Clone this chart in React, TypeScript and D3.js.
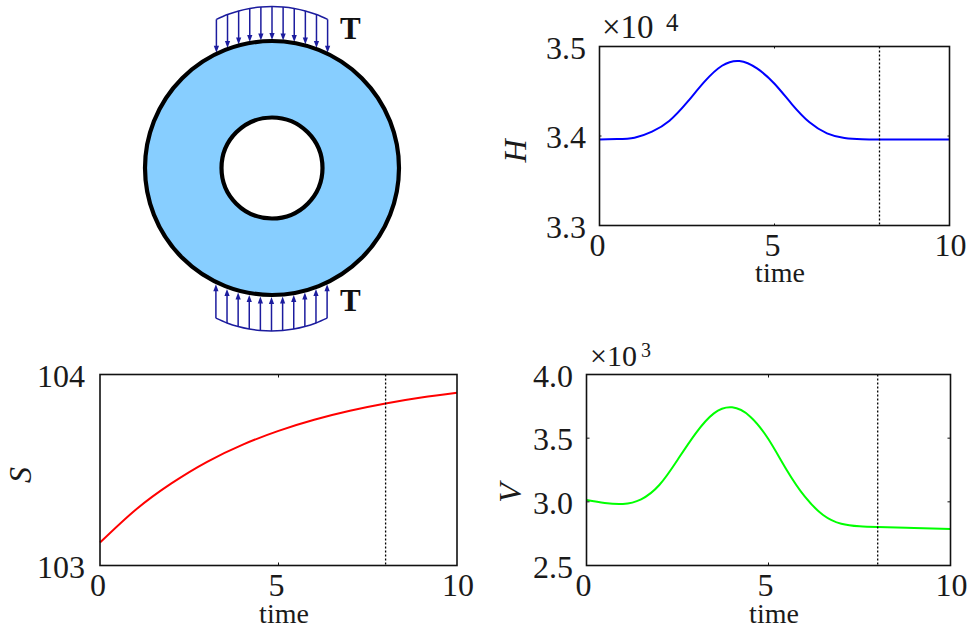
import React from "react";
import * as d3 from "d3";

const hTimes = [0, 0.5, 1, 1.5, 2, 2.5, 3, 3.5, 4, 4.5, 5, 5.5, 6, 6.5, 7, 7.5, 8, 9, 10];
const hValues = [3.3962, 3.3966, 3.3981, 3.4048, 3.4171, 3.4375, 3.4607, 3.4785, 3.4838, 3.4755, 3.4584, 3.4354, 3.4153, 3.403, 3.3978, 3.3964, 3.3962, 3.3962, 3.3962];
const sTimes = [0, 1, 2, 3, 4, 5, 6, 7, 8, 9, 10];
const sValues = [103.12, 103.292, 103.43, 103.543, 103.633, 103.705, 103.763, 103.81, 103.848, 103.879, 103.904];
const vTimes = [0, 0.5, 1, 1.5, 2, 2.5, 3, 3.5, 4, 4.5, 5, 5.5, 6, 6.5, 7, 7.5, 8, 9, 10];
const vValues = [3.0144, 2.991, 2.983, 3.02, 3.132, 3.329, 3.538, 3.695, 3.742, 3.669, 3.491, 3.25, 3.04, 2.897, 2.828, 2.808, 2.802, 2.794, 2.787];
const xTicks = [0, 5, 10];
const hTicks = [3.3, 3.4, 3.5];
const sTicks = [103, 104];
const vTicks = [2.5, 3.0, 3.5, 4.0];
const marker = 8;
const loadOffsets = [-5, -4, -3, -2, -1, 0, 1, 2, 3, 4, 5];

const FONT = "'Liberation Serif', serif";

type PanelProps = {
  times: number[]; values: number[]; color: string; yDomain: [number, number]; yTicks: number[];
  yFormat: (v: number) => string; box: [number, number, number, number]; name: string;
  nameX: number; nameY: number; timeX: number; tickBase: number; timeBase: number; labelRight: number;
  xLabelShift: number; tickLen: number;
};

function Panel(p: PanelProps) {
  const [l, t, r, b] = p.box;
  const x = d3.scaleLinear().domain([0, 10]).range([l, r]);
  const y = d3.scaleLinear().domain(p.yDomain).range([b, t]);
  const line = d3.line<number>().x((_, i) => x(p.times[i])).y((d) => y(d)).curve(d3.curveNatural);
  const inner = p.yTicks.filter((v) => v !== p.yDomain[0] && v !== p.yDomain[1]);
  return (
    <g fontFamily={FONT} fill="#1a1a1a">
      <path d={line(p.values) ?? ""} fill="none" stroke={p.color} strokeWidth={2} />
      <line x1={x(marker)} x2={x(marker)} y1={t} y2={b} stroke="#000" strokeWidth={1.3} strokeDasharray="2 2" />
      <rect x={l} y={t} width={r - l} height={b - t} fill="none" stroke="#111" strokeWidth={1.6} />
      {inner.map((v) => (
        <g key={v} stroke="#111" strokeWidth={1}>
          <line x1={l} x2={l + p.tickLen} y1={y(v)} y2={y(v)} />
          <line x1={r} x2={r - p.tickLen} y1={y(v)} y2={y(v)} />
        </g>
      ))}
      <g stroke="#111" strokeWidth={1}>
        <line x1={x(5)} x2={x(5)} y1={b} y2={b - p.tickLen} />
        <line x1={x(5)} x2={x(5)} y1={t} y2={t + p.tickLen} />
      </g>
      {p.yTicks.map((v) => (
        <text key={v} x={p.labelRight} y={y(v) + 12} textAnchor="end" fontSize={32}>{p.yFormat(v)}</text>
      ))}
      {xTicks.map((v) => (
        <text key={v} x={x(v) + (v === 10 ? 1 : p.xLabelShift)} y={p.tickBase} textAnchor="middle" fontSize={32}>{v}</text>
      ))}
      <text x={p.timeX} y={p.timeBase} textAnchor="middle" fontSize={28}>time</text>
      <text transform={`translate(${p.nameX},${p.nameY}) rotate(-90)`} textAnchor="middle" fontSize={32} fontStyle="italic">{p.name}</text>
    </g>
  );
}

function Ring() {
  const cx = 272, cy = 168, R = 127, rIn = 50.5;
  const ax = d3.scaleLinear().domain([-5, 5]).range([cx - 55.6, cx + 55.6]);
  const top = (dx: number) => cy - Math.sqrt(R * R - dx * dx);
  const bot = (dx: number) => cy + Math.sqrt(R * R - dx * dx);
  const blue = "#1c1c9e";
  const arcTop = d3.line<number>().x((o) => ax(o)).y((o) => top(ax(o) - cx) - 34.5).curve(d3.curveCatmullRom);
  const arcBot = d3.line<number>().x((o) => ax(o) - 0.5).y((o) => bot(ax(o) - cx) + 36).curve(d3.curveCatmullRom);
  return (
    <g>
      <g fill="none" stroke={blue} strokeWidth={1.5}>
        <path d={arcTop(loadOffsets) ?? ""} />
        <path d={arcBot(loadOffsets) ?? ""} />
      </g>
      {loadOffsets.map((o) => {
        const px = ax(o), dx = px - cx, yt = top(dx) - 1, yb = bot(dx) + 2;
        return (
          <g key={o} stroke={blue} fill={blue} strokeWidth={1.5}>
            <line x1={px} x2={px} y1={yt - 33.5} y2={yt - 4} />
            <path d={`M${px - 2.6},${yt - 7}L${px + 2.6},${yt - 7}L${px},${yt}Z`} stroke="none" />
            <line x1={px - 0.5} x2={px - 0.5} y1={yb + 34} y2={yb + 4} />
            <path d={`M${px - 3.1},${yb + 7}L${px + 2.1},${yb + 7}L${px - 0.5},${yb}Z`} stroke="none" />
          </g>
        );
      })}
      <circle cx={cx} cy={cy} r={R} fill="#87ceff" stroke="#000" strokeWidth={4.2} />
      <circle cx={cx} cy={cy} r={rIn} fill="#fff" stroke="#000" strokeWidth={4.2} />
      <text x={340} y={39} fontFamily={FONT} fontWeight="bold" fontSize={31} fill="#111">T</text>
      <text x={340} y={311} fontFamily={FONT} fontWeight="bold" fontSize={31} fill="#111">T</text>
    </g>
  );
}

export default function App() {
  return (
    <svg width={968} height={633} viewBox="0 0 968 633" style={{ position: "absolute", left: 0, top: 0, background: "#fff" }}>
      <Ring />
      <Panel times={hTimes} values={hValues} color="#0000ff" yDomain={[3.3, 3.5]} yTicks={hTicks} yFormat={(v) => v.toFixed(1)}
        box={[599.5, 46.5, 949.5, 225.5]} name="H" nameX={526} nameY={151} timeX={780} tickBase={256} timeBase={282}
        labelRight={586} xLabelShift={-2} tickLen={2} />
      <Panel times={sTimes} values={sValues} color="#ff0000" yDomain={[103, 104]} yTicks={sTicks} yFormat={(v) => String(v)}
        box={[100, 374.5, 457, 565.5]} name="S" nameX={31} nameY={475} timeX={284} tickBase={596} timeBase={623}
        labelRight={85} xLabelShift={-2} tickLen={3} />
      <Panel times={vTimes} values={vValues} color="#00ff00" yDomain={[2.5, 4]} yTicks={vTicks} yFormat={(v) => v.toFixed(1)}
        box={[586.5, 374.5, 950.5, 565.5]} name="V" nameX={521} nameY={493} timeX={774} tickBase={596} timeBase={623}
        labelRight={573} xLabelShift={-3} tickLen={3} />
      <g fontFamily={FONT} fill="#1a1a1a">
        <text x={602} y={38} fontSize={33}>×10</text>
        <text x={666} y={31} fontSize={25}>4</text>
        <text x={590} y={366} fontSize={30}>×10</text>
        <text x={641} y={357} fontSize={20}>3</text>
      </g>
    </svg>
  );
}
